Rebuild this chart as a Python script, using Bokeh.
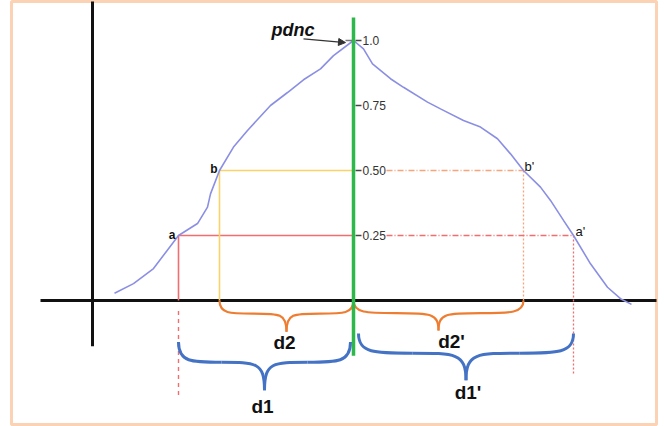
import numpy as np
from bokeh.plotting import figure
from bokeh.models import Range1d, Arrow, NormalHead
from bokeh.core.properties import value
from bokeh.embed import file_html
from bokeh.resources import INLINE

# ---------------- data ----------------
curve_x = [-2.39, -2.20, -2.00, -1.75, -1.56, -1.46, -1.43, -1.34, -1.20, -1.06, -0.83, -0.66,
           -0.50, -0.33, -0.20, 0.00, 0.10, 0.19, 0.37, 0.50, 0.74, 0.87, 1.10, 1.27, 1.44,
           1.57, 1.70, 1.87, 1.97, 2.10, 2.20, 2.37, 2.54, 2.67, 2.78]
curve_y = [0.028, 0.065, 0.123, 0.25, 0.296, 0.359, 0.41, 0.50, 0.59, 0.654, 0.75, 0.80,
           0.849, 0.891, 0.942, 1.00, 0.968, 0.91, 0.853, 0.82, 0.763, 0.737, 0.692, 0.667, 0.622,
           0.564, 0.50, 0.436, 0.385, 0.308, 0.25, 0.141, 0.051, 0.007, -0.015]

level_values = [0.25, 0.50, 0.75, 1.0]
level_labels = ["0.25", "0.50", "0.75", "1.0"]

left_names = ["a", "b"]
left_x = [-1.75, -1.34]
left_y = [0.25, 0.50]
right_names = ["b'", "a'"]
right_x = [1.70, 2.20]
right_y = [0.50, 0.25]

center_x = 0.0
peak_y = 1.0
yaxis_x = -2.61

brace_names = ["d2", "d2'", "d1", "d1'"]

# ---------------- figure ----------------
W, H = 664, 426
p = figure(width=W, height=H, output_backend="svg", toolbar_location=None,
           x_range=Range1d(-3.42, 3.03), y_range=Range1d(-0.4769, 1.15),
           min_border_left=11, min_border_right=8, min_border_top=1, min_border_bottom=2)
p.axis.visible = False
p.grid.visible = False
p.outline_line_color = "#fbd2b4"
p.outline_line_width = 3
p.background_fill_color = "white"
p.border_fill_color = "white"

RED = "#f26d6d"
YEL = "#f8d36a"
ORANGE = "#ee7d31"
ORANGE_L = "#f7a37c"
BLUE = "#4472c4"
GREEN = "#2db84b"
CURVE = "#8b8fe3"
FONT = value("Liberation Sans")

a_x, b_x = left_x
a_y, b_y = left_y
bp_x, ap_x = right_x
bp_y, ap_y = right_y

# black axes
p.line([yaxis_x, yaxis_x], [1.2, -0.176], line_color="#111111", line_width=3)
p.line([-3.13, 3.2], [0, 0], line_color="#111111", line_width=3)

# left guide lines (solid)
p.line([a_x, center_x], [a_y, a_y], line_color=RED, line_width=1.6)
p.line([a_x, a_x], [a_y, 0], line_color=RED, line_width=1.6)
p.line([a_x, a_x], [-0.04, -0.365], line_color=RED, line_width=1.4, line_dash="4 4")
p.line([b_x, center_x], [b_y, b_y], line_color=YEL, line_width=1.6)
p.line([b_x, b_x], [b_y, 0], line_color=YEL, line_width=1.6)

# right guide lines (dash-dot / dotted)
gap = 0.33
p.line([center_x + gap, bp_x], [bp_y, bp_y], line_color=ORANGE_L, line_width=1.3, line_dash="6 2 1 2")
p.line([bp_x, bp_x], [bp_y, 0], line_color=ORANGE_L, line_width=1.3, line_dash="2 2")
p.line([center_x + gap, ap_x], [ap_y, ap_y], line_color=RED, line_width=1.3, line_dash="6 2 1 2")
p.line([ap_x, ap_x], [ap_y, -0.288], line_color=RED, line_width=1.3, line_dash="2 2")

# the curve
p.line(curve_x, curve_y, line_color=CURVE, line_width=1.6)

# braces
def brace(x0, x1, yt, h, f=0.42):
    xm = (x0 + x1) / 2
    yf = yt - f * h
    yb = yt - h
    q1 = (x0 + xm) / 2
    q2 = (xm + x1) / 2
    segs = dict(x0=[], y0=[], x1=[], y1=[], cx0=[], cy0=[], cx1=[], cy1=[])
    def add(P0, P3, C0, C1):
        segs["x0"].append(P0[0]); segs["y0"].append(P0[1])
        segs["x1"].append(P3[0]); segs["y1"].append(P3[1])
        segs["cx0"].append(C0[0]); segs["cy0"].append(C0[1])
        segs["cx1"].append(C1[0]); segs["cy1"].append(C1[1])
    add((x0, yt), (q1, yf), (x0, yf), (x0 + 0.3 * (q1 - x0), yf))
    add((q1, yf), (xm, yb), (xm - 0.2 * (xm - q1), yf), (xm, yf))
    add((xm, yb), (q2, yf), (xm, yf), (xm + 0.2 * (q2 - xm), yf))
    add((q2, yf), (x1, yt), (x1 - 0.3 * (x1 - q2), yf), (x1, yf))
    return segs, xm, yb

brace_specs = [
    (b_x, center_x, 0.0, 0.12, ORANGE, 2.2),
    (center_x, bp_x, 0.0, 0.115, ORANGE, 2.2),
    (a_x, center_x - 0.03, -0.16, 0.185, BLUE, 3.0),
    (center_x + 0.05, ap_x, -0.127, 0.18, BLUE, 3.0),
]
tips_x, tips_y = [], []
for (x0, x1, yt, h, col, lw) in brace_specs:
    segs, xm, yb = brace(x0, x1, yt, h)
    p.bezier(line_color=col, line_width=lw, **segs)
    tips_x.append(xm)
    tips_y.append(yb)

# brace labels
lbl_dx = [-2, 13, -2, 2]
lbl_dy = [11, 11, 16, 12]
p.text(x=tips_x, y=tips_y, text=brace_names, x_offset=lbl_dx, y_offset=lbl_dy,
       text_align="center", text_baseline="alphabetic", text_font=FONT,
       text_font_style="bold", text_font_size="19px", text_color="#111111")

# ticks on the green axis
n = len(level_values)
p.segment(x0=[center_x + 0.02] * n, y0=level_values, x1=[center_x + 0.08] * n, y1=level_values,
          line_color="#444444", line_width=1.5)
p.segment(x0=[center_x - 0.08], y0=[peak_y], x1=[center_x], y1=[peak_y],
          line_color="#777777", line_width=1.5)

# green vertical line
p.line([center_x, center_x], [1.088, -0.212], line_color=GREEN, line_width=3.5)

# tick labels
p.text(x=[center_x + 0.09] * n, y=level_values, text=level_labels,
       text_align="left", text_baseline="middle", text_font=FONT,
       text_font_size="12px", text_color="#333333")

# point labels
p.text(x=left_x, y=left_y, text=left_names, x_offset=[-3, -2], y_offset=[-1, -2],
       text_align="right", text_baseline="alphabetic", text_font=FONT,
       text_font_style="bold", text_font_size="12px", text_color="#111111")
p.text(x=right_x, y=right_y, text=right_names, x_offset=[1, 2], y_offset=[-4, -4],
       text_align="left", text_baseline="alphabetic", text_font=FONT,
       text_font_size="13px", text_color="#111111")

# pdnc label and arrow
p.text(x=[center_x], y=[peak_y], text=["pdnc"], x_offset=[-82], y_offset=[-11],
       text_align="left", text_baseline="alphabetic", text_font=FONT,
       text_font_style="bold italic", text_font_size="18px", text_color="#111111")
p.add_layout(Arrow(x_start=center_x - 0.50, y_start=peak_y + 0.006,
                   x_end=center_x - 0.08, y_end=peak_y - 0.008,
                   line_color="#333333", line_width=1.2,
                   end=NormalHead(size=7, fill_color="#333333", line_color="#333333")))

open("out.html", "w").write(file_html(p, INLINE))
